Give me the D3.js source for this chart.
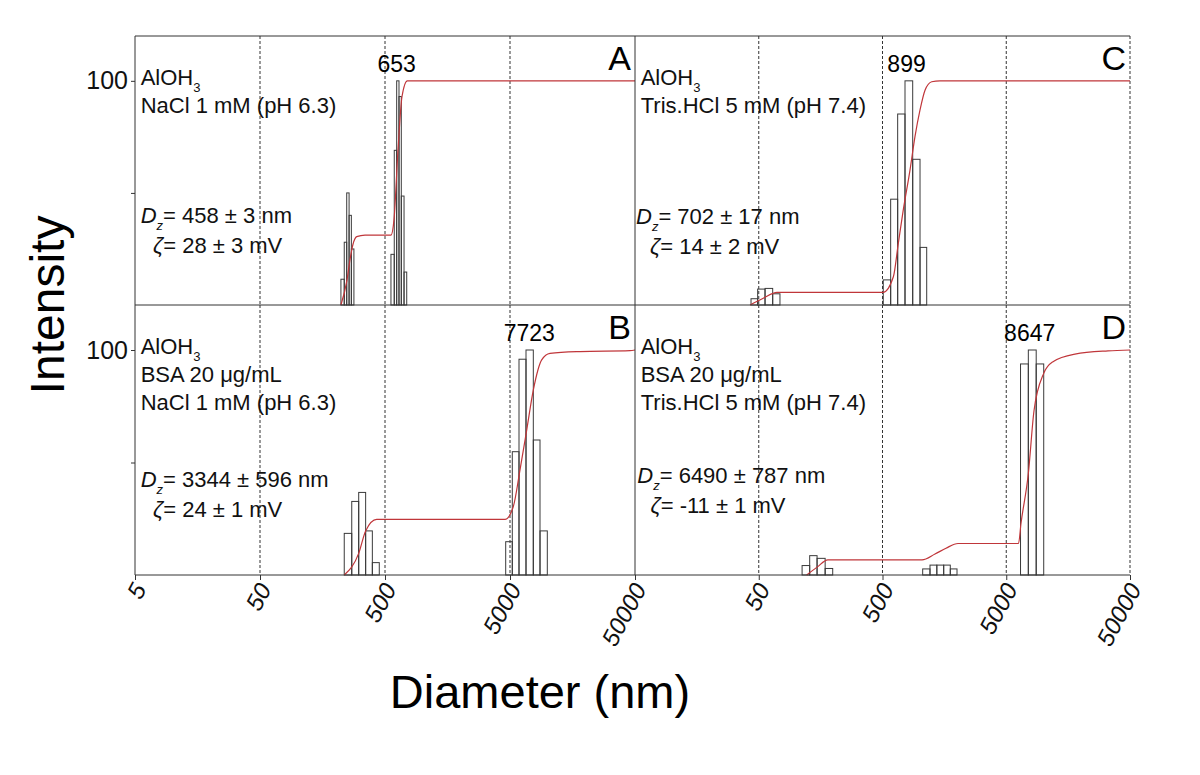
<!DOCTYPE html>
<html>
<head>
<meta charset="utf-8">
<script src="https://cdn.jsdelivr.net/npm/d3@7"></script>
<style>
body{margin:0;background:#fff;}
svg{font-family:"Liberation Sans",Arial,sans-serif;}
</style>
</head>
<body>
<svg id="chart" width="1200" height="775"></svg>
<script>
// axis values
const xTicks = [5, 50, 500, 5000, 50000];
const yTicks = [50, 100];

// histogram bins: edges (nm) of each population and the intensity of each bin (%)
const edgesA = [[222,236,247,258,269,282],[558,593,620,647,675,710,746]];
const heightsA = [[11.5,28,50,40,25],[22.6,69,100,93,48.6,14.7]];
const edgesB = [[236,271,308,350,396,450],[4619,5216,5902,6714,7681,8690,9940]];
const heightsB = [[18.5,32.7,36.7,19.6,5.5],[14.8,54.8,95.9,100,60,19.6]];
const edgesC = [[43.3,49,56.2,64.8,74.2],[507,582,663,760,877,1005,1138]];
const heightsC = [[2.8,7.1,7.4,5],[11.2,47.2,85.2,100,65,25.7]];
const edgesD = [[112,129,148,172,198],[1056,1210,1374,1561,1765,2000],[6521,7540,8729,10040]];
const heightsD = [[4.2,8.6,7.4,2.9],[2.7,4.4,4.4,4.4,2.7],[93.8,100,93.8]];

// cumulative intensity curves [diameter nm, %]
const cumA = [[222,0],[248,11],[262,20],[277,27],[297,30.5],[346,31.2],[558,31.2],[590,38],[635,69],[684,93],[754,100],[50000,100]];
const cumB = [[236,0],[308,9.6],[350,19.6],[429,24.7],[4560,24.7],[5313,30.4],[6011,46.7],[6800,64.4],[7681,82.2],[8966,95.6],[10447,98.5],[18155,99.3],[45600,99.7],[50000,100]];
const cumC = [[42.5,0],[54.4,3],[70.2,5.6],[505,5.6],[612,12.6],[671,27.5],[736,42.4],[834,60.2],[915,75.1],[1005,87],[1103,95.8],[1249,99.6],[1457,100],[50000,100]];
const cumD = [[122,0],[148,3.5],[181,6.7],[1043,6.7],[1328,9.3],[1630,11.9],[2038,14],[6281,14],[6580,23],[7540,45],[8380,73],[10040,89.6],[11935,94.8],[17965,98.2],[33210,99.6],[50000,100]];

// peak labels: text and diameter they sit over
const peakText = ["653", "7723", "899", "8647"];
const peakAt = [620, 7135, 782, 7735];

// sample descriptions
const sampleLines = [
	["NaCl 1 mM (pH 6.3)"],
	["BSA 20 \u03bcg/mL", "NaCl 1 mM (pH 6.3)"],
	["Tris.HCl 5 mM (pH 7.4)"],
	["BSA 20 \u03bcg/mL", "Tris.HCl 5 mM (pH 7.4)"]
];
const dzText = ["= 458 \u00b1 3 nm", "= 3344 \u00b1 596 nm", "= 702 \u00b1 17 nm", "= 6490 \u00b1 787 nm"];
const zetaText = ["= 28 \u00b1 3 mV", "= 24 \u00b1 1 mV", "= 14 \u00b1 2 mV", "= -11 \u00b1 1 mV"];
const panelNames = ["A", "B", "C", "D"];

const svg = d3.select("#chart");
const colX = [[135, 635], [635, 1130]];
const rowY = [[305, 36], [575, 305]];
const red = "#c0363a";

const panels = [
	{edges: edgesA, heights: heightsA, cum: cumA, col: 0, row: 0, dzY: 187, dzDx: 5.7, zDx: 18},
	{edges: edgesB, heights: heightsB, cum: cumB, col: 0, row: 1, dzY: 182, dzDx: 5.7, zDx: 18},
	{edges: edgesC, heights: heightsC, cum: cumC, col: 1, row: 0, dzY: 188, dzDx: 1, zDx: 15},
	{edges: edgesD, heights: heightsD, cum: cumD, col: 1, row: 1, dzY: 178, dzDx: 2.3, zDx: 15.5}
];

panels.forEach(function(p, i){
	let x = d3.scaleLog().domain([5, 50000]).range(colX[p.col]),
		y = d3.scaleLinear().domain([0, 120]).range(rowY[p.row]),
		left = colX[p.col][0],
		top = rowY[p.row][1],
		g = svg.append("g").attr("class", "panel" + panelNames[i]);

	// dashed grid lines
	let grid = xTicks.filter(function(t){ return t > 5 && (p.col === 1 || t < 50000); });
	g.selectAll("line.grid").data(grid).enter().append("line")
		.attr("class", "grid")
		.attr("x1", function(d){ return x(d); })
		.attr("x2", function(d){ return x(d); })
		.attr("y1", y(120)).attr("y2", y(0))
		.attr("stroke", "#333").attr("stroke-width", 1)
		.attr("stroke-dasharray", "3,2");

	// histogram bars
	p.edges.forEach(function(ed, k){
		let bars = p.heights[k].map(function(h, j){ return {lo: ed[j], hi: ed[j+1], h: h}; });
		g.selectAll(null).data(bars).enter().append("rect")
			.attr("x", function(d){ return x(d.lo); })
			.attr("width", function(d){ return x(d.hi) - x(d.lo); })
			.attr("y", function(d){ return y(d.h); })
			.attr("height", function(d){ return y(0) - y(d.h); })
			.attr("fill", "none")
			.attr("stroke", "#3a3a3a")
			.attr("stroke-width", 1);
	});

	// cumulative curve
	let line = d3.line()
		.x(function(d){ return x(d[0]); })
		.y(function(d){ return y(d[1]); })
		.curve(d3.curveMonotoneX);
	g.append("path").datum(p.cum)
		.attr("d", line)
		.attr("fill", "none")
		.attr("stroke", red)
		.attr("stroke-width", 1.2);

	// peak label
	g.append("text")
		.attr("x", x(peakAt[i])).attr("y", top + 35.5)
		.attr("text-anchor", "middle")
		.attr("font-size", 23)
		.text(peakText[i]);

	// panel letter
	g.append("text")
		.attr("x", x(50000) - 4).attr("y", top + 34)
		.attr("text-anchor", "end")
		.attr("font-size", 34)
		.text(panelNames[i]);

	// sample description
	let desc = g.append("text").attr("font-size", 22).attr("fill", "#111");
	desc.append("tspan").attr("x", left + 5.7).attr("y", top + 49).text("AlOH");
	desc.append("tspan").attr("font-size", 13).attr("dy", 7).text("3");
	sampleLines[i].forEach(function(s, k){
		desc.append("tspan").attr("x", left + 5.7).attr("y", top + 49 + 28 * (k + 1)).text(s);
	});

	let dz = g.append("text").attr("font-size", 22).attr("fill", "#111")
		.attr("x", left + p.dzDx).attr("y", top + p.dzY);
	dz.append("tspan").attr("font-style", "italic").text("D");
	dz.append("tspan").attr("font-style", "italic").attr("font-size", 13).attr("dy", 7).text("z");
	dz.append("tspan").attr("dy", -7).text(dzText[i]);

	let zeta = g.append("text").attr("font-size", 22).attr("fill", "#111")
		.attr("x", left + p.zDx).attr("y", top + p.dzY + 30);
	zeta.append("tspan").attr("font-style", "italic").text("\u03b6");
	zeta.append("tspan").text(zetaText[i]);

	// axes
	if(p.row === 1){
		let xAxis = d3.axisBottom(x).tickValues(p.col === 0 ? xTicks : xTicks.slice(1))
			.tickSize(5).tickFormat(d3.format("d"));
		let ax = svg.append("g").attr("transform", "translate(0," + y(0) + ")").call(xAxis);
		ax.select(".domain").remove();
		ax.selectAll(".tick line").attr("stroke", "#333");
		ax.selectAll(".tick text")
			.attr("font-size", 24).attr("font-style", "italic").attr("fill", "#111")
			.attr("text-anchor", "end")
			.attr("transform", "translate(4,10) rotate(-62)")
			.attr("dx", 0).attr("dy", "0.35em").attr("y", 0).attr("x", 0);
	}
	if(p.col === 0){
		let yAxis = d3.axisLeft(y).tickValues(yTicks).tickSize(4)
			.tickFormat(function(d){ return d === 100 ? "100" : ""; });
		let ay = svg.append("g").attr("transform", "translate(" + left + ",0)").call(yAxis);
		ay.select(".domain").remove();
		ay.selectAll(".tick line").attr("stroke", "#333");
		ay.selectAll(".tick text").attr("font-size", 25).attr("fill", "#111").attr("x", -7);
	}
});

// frame lines
const frame = svg.append("g").attr("stroke", "#333").attr("stroke-width", 1);
[[135, 36, 1130, 36], [135, 305, 1130, 305], [135, 575, 1130, 575], [135, 36, 135, 575], [635, 36, 635, 575]]
	.forEach(function(l){
		frame.append("line").attr("x1", l[0]).attr("y1", l[1]).attr("x2", l[2]).attr("y2", l[3]);
	});

// axis titles
svg.append("text")
	.attr("transform", "translate(64,305) rotate(-90)")
	.attr("text-anchor", "middle")
	.attr("font-size", 48)
	.text("Intensity");
svg.append("text")
	.attr("x", 540).attr("y", 708)
	.attr("text-anchor", "middle")
	.attr("font-size", 47)
	.text("Diameter (nm)");
</script>
</body>
</html>
